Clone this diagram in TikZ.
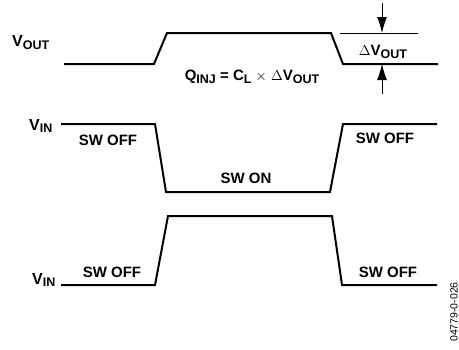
\documentclass[tikz,border=0pt]{standalone}
\usepackage{fontspec}
\setmainfont{Liberation Sans}
\usetikzlibrary{arrows.meta}
\newcommand{\sbs}[1]{\raisebox{-0.35ex}{\fontsize{12.5}{12.5}\selectfont #1}}
\begin{document}
\begin{tikzpicture}[x=1pt,y=-1pt,
    wave/.style={line width=2pt,line join=miter},
    lbl/.style={font=\fontsize{15}{17}\selectfont\bfseries,inner sep=0pt},
    sig/.style={font=\fontsize{16}{18}\selectfont\bfseries,inner sep=0pt,anchor=west}]
\useasboundingbox (0,0) rectangle (459,349);
% output waveform
\draw[wave] (64,64) -- (154,64) -- (167,33) -- (331,33) -- (343,64) -- (438,64);
\draw[line width=1pt] (340,33) -- (418,33);
\coordinate (atop) at (382,3);
\coordinate (atip) at (382,33);
\coordinate (bbot) at (382,94);
\coordinate (btip) at (382,64);
\draw[line width=1pt,-{Latex[length=16pt,width=10pt]}] (atop) -- (atip);
\draw[line width=1pt,-{Latex[length=16pt,width=10pt]}] (bbot) -- (btip);
\node[sig] (vout) at (12,43) {V\sbs{OUT}};
\node[lbl] (dvout) at (383,52) {\mdseries$\Delta$\bfseries V\sbs{OUT}};
\node[lbl] (qinj) at (252,77)
    {Q\sbs{INJ} = C\sbs{L} {\mdseries$\times$ $\Delta$}V\sbs{OUT}};
% first input
\draw[wave] (61,124) -- (155,124) -- (166,192) -- (330,192) -- (343,124) -- (437,124);
\node[sig] (vin1) at (29,126) {V\sbs{IN}};
\node[lbl] (off1) at (108,140) {SW OFF};
\node[lbl] (on1) at (246,178) {SW ON};
\node[lbl] (off2) at (385,138) {SW OFF};
% second input
\draw[wave] (61,285) -- (155,285) -- (168,216) -- (332,216) -- (342,285) -- (437,285);
\node[sig] (vin2) at (32,280) {V\sbs{IN}};
\node[lbl] (off3) at (112,272) {SW OFF};
\node[lbl] (off4) at (388,272) {SW OFF};
\node[rotate=90,font=\fontsize{10.5}{11}\selectfont,inner sep=0pt] (fig) at (454,312) {04779-0-026};
\end{tikzpicture}
\end{document}
